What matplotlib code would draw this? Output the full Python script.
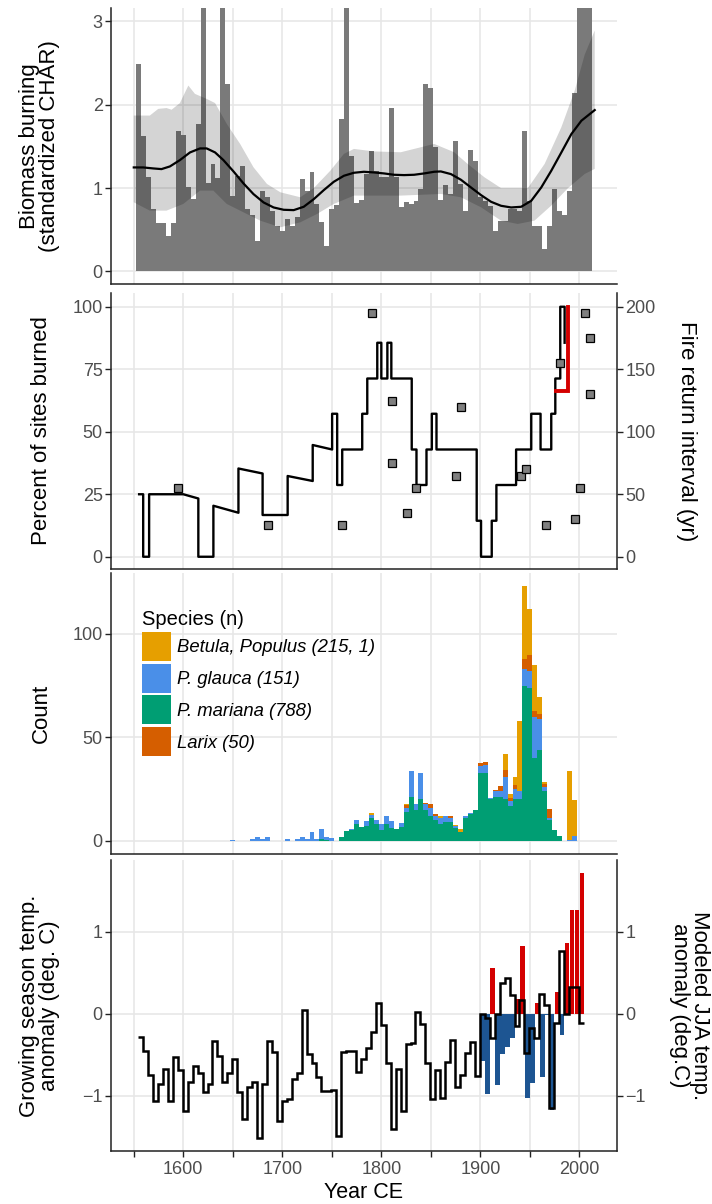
import matplotlib
matplotlib.use("Agg")
import matplotlib.pyplot as plt
import numpy as np
from matplotlib.patches import Patch

plt.rcParams['font.family'] = ['Liberation Sans', 'DejaVu Sans']

# ---------------- Panel 1: biomass burning (CHAR) ----------------
char_years = np.arange(1555, 2011, 5)
char_values = [2.49, 1.62, 1.13, 0.75, 0.58, 0.58, 0.43, 0.58, 1.69, 1.64,
               1.01, 0.87, 1.77, 3.60, 1.06, 1.29, 1.12, 3.60, 2.25, 0.91,
               1.15, 1.27, 0.75, 0.68, 0.37, 0.96, 0.89, 0.72, 0.54, 0.48,
               0.63, 0.54, 0.65, 1.11, 0.97, 1.19, 0.81, 0.59, 0.31, 0.75,
               0.80, 1.83, 3.60, 1.39, 0.82, 0.86, 1.17, 1.45, 1.21, 1.13,
               1.13, 1.96, 1.13, 0.77, 0.83, 0.81, 0.85, 0.99, 2.25, 2.20,
               1.49, 0.86, 1.04, 0.93, 1.57, 1.05, 0.72, 1.46, 1.32, 0.89,
               0.85, 0.79, 0.49, 0.61, 0.61, 0.75, 0.75, 0.72, 1.69, 0.85,
               0.54, 0.54, 0.27, 0.54, 0.99, 0.72, 0.68, 0.97, 2.14, 3.60,
               3.60, 3.60]
smooth_years = [1550.0, 1559.5, 1569.6, 1578.0, 1586.5, 1596.6, 1606.8, 1616.9,
                1623.6, 1632.1, 1640.5, 1650.7, 1660.8, 1670.9, 1681.1, 1691.2,
                1701.4, 1711.5, 1721.6, 1731.8, 1741.9, 1752.0, 1762.2, 1772.3,
                1782.4, 1792.6, 1802.7, 1812.8, 1823.0, 1833.1, 1843.2, 1853.4,
                1860.1, 1870.3, 1880.4, 1890.5, 1900.7, 1910.8, 1920.9, 1931.1,
                1941.2, 1951.4, 1961.5, 1971.6, 1981.8, 1991.9, 2002.0, 2015.5]
smooth_values = [1.248, 1.248, 1.236, 1.228, 1.26, 1.336, 1.428, 1.476,
                 1.476, 1.428, 1.336, 1.20, 1.056, 0.928, 0.828, 0.768,
                 0.74, 0.736, 0.776, 0.868, 0.976, 1.076, 1.148, 1.184,
                 1.196, 1.188, 1.176, 1.16, 1.156, 1.16, 1.176, 1.196,
                 1.20, 1.168, 1.10, 1.008, 0.916, 0.836, 0.788, 0.768,
                 0.776, 0.848, 1.008, 1.208, 1.428, 1.648, 1.808, 1.936]
upper_years = [1550, 1566.2, 1574.7, 1583.1, 1588.2, 1596.6, 1605.1, 1611.8,
               1623.6, 1632.1, 1643.9, 1657.4, 1670.9, 1684.5, 1698.0, 1718.2,
               1731.8, 1748.6, 1762.2, 1772.3, 1792.6, 1819.6, 1839.9, 1853.4,
               1873.6, 1887.2, 1904.1, 1920.9, 1948.0, 1964.9, 1981.8, 1995.3,
               2005.4, 2015.5]
upper_values = [1.87, 1.87, 1.95, 1.96, 1.94, 2.02, 2.23, 2.13,
                2.07, 2.02, 1.77, 1.53, 1.25, 1.05, 0.95, 0.89,
                1.00, 1.21, 1.41, 1.47, 1.44, 1.43, 1.49, 1.53,
                1.43, 1.29, 1.13, 1.00, 1.00, 1.29, 1.73, 2.17,
                2.60, 2.89]
lower_years = [1550, 1566.2, 1583.1, 1600.0, 1616.9, 1630.4, 1643.9, 1657.4,
               1677.7, 1698.0, 1718.2, 1735.1, 1752.0, 1772.3, 1819.6, 1860.1,
               1880.4, 1900.7, 1920.9, 1937.8, 1954.7, 1971.6, 1988.5, 2005.4,
               2015.5]
lower_values = [0.83, 0.73, 0.73, 0.81, 0.97, 0.97, 0.81, 0.73,
                0.61, 0.53, 0.59, 0.69, 0.81, 0.91, 0.91, 0.93,
                0.89, 0.77, 0.61, 0.57, 0.61, 0.79, 1.00, 1.17,
                1.23]

# ---------------- Panel 2: percent of sites burned / FRI ----------------
pct_years = [1555.4, 1559.5, 1559.5, 1565.5, 1565.5, 1600.0, 1615.2, 1615.2,
             1630.4, 1630.4, 1655.7, 1655.7, 1680.1, 1680.1, 1705.4, 1705.4,
             1730.7, 1730.7, 1750.3, 1750.3, 1755.4, 1755.4, 1760.5, 1760.5,
             1780.7, 1780.7, 1785.8, 1785.8, 1795.9, 1795.9, 1800.0, 1800.0,
             1806.1, 1806.1, 1810.1, 1810.1, 1830.7, 1830.7, 1835.5, 1835.5,
             1845.6, 1845.6, 1851.0, 1851.0, 1855.7, 1855.7, 1896.3, 1896.3,
             1900.7, 1900.7, 1911.5, 1911.5, 1916.2, 1916.2, 1936.1, 1936.1,
             1951.4, 1951.4, 1960.8, 1960.8, 1971.6, 1971.6, 1975.7, 1975.7,
             1980.7, 1980.7, 1985.1, 1985.1]
pct_values = [25.0, 25.0, 0.0, 0.0, 25.0, 25.0, 23.3, 0.0,
              0.0, 20.4, 17.6, 35.3, 33.3, 16.7, 16.7, 32.3,
              30.3, 44.7, 42.9, 57.2, 57.2, 28.7, 28.7, 42.9,
              42.9, 57.2, 57.2, 71.3, 71.3, 85.6, 85.6, 71.3,
              71.3, 85.6, 85.6, 71.3, 71.3, 42.9, 42.9, 28.7,
              28.7, 42.9, 42.9, 57.2, 57.2, 42.9, 42.9, 14.4,
              14.4, 0.0, 0.0, 14.4, 14.4, 28.7, 28.7, 42.9,
              42.9, 57.2, 57.2, 42.9, 42.9, 57.2, 57.2, 71.3,
              71.3, 100.0, 100.0, 85.6]
recent_years = [1976.7, 1988.5, 1988.5]
recent_values = [66.3, 66.3, 100.0]
fri_years = [1594.9, 1685.1, 1760.5, 1790.9, 1810.5, 1810.5, 1825.7, 1835.5,
             1875.7, 1880.4, 1941.2, 1945.6, 1965.9, 1980.7, 1996.0, 2001.0,
             2006.0, 2011.1, 2011.1]
fri_values = [54.7, 25.3, 25.3, 194.7, 124.8, 74.7, 34.7, 54.7,
              64.8, 119.5, 64.8, 69.9, 25.3, 154.7, 29.9, 54.7,
              194.7, 174.7, 129.9]

# ---------------- Panel 3: tree establishment counts ----------------
count_years = np.arange(1650, 2001, 5)
mariana = [0, 0, 0, 0, 0, 0, 0, 0, 0, 0, 0, 0, 0, 0, 0, 0, 0, 0, 1, 0.5,
           0, 0, 2, 4.5, 5, 8, 6.5, 7, 11, 8, 5, 8, 6, 5.5, 6.5, 14, 21, 15, 20, 15,
           12, 10, 8, 9, 9, 6, 4, 11, 13, 15, 33, 33, 20, 21, 21, 20, 17, 20, 20, 75,
           74, 40, 44, 24, 10, 5, 2.3, 0, 0, 0, 0]
glauca = [0.5, 0, 0, 0, 1, 2, 1, 2, 0, 0, 0, 0.7, 0, 0.7, 1.6, 1, 4, 1, 4.5, 1.5,
          1.5, 0, 0, 0, 0.5, 2, 0, 2.5, 1.5, 2, 3, 4, 3.5, 0, 2, 2, 12.5, 3, 13, 3,
          4, 2, 3, 3, 2, 1, 0, 1, 0.5, 0, 3, 3.5, 0.5, 3, 3, 11, 2, 5, 4, 8,
          8, 20, 15, 2, 1, 0, 0, 0, 0.5, 2.5, 0]
larix = [0, 0, 0, 0, 0, 0, 0, 0, 0, 0, 0, 0, 0, 0, 0, 0, 0, 0, 0, 0,
         0, 0, 0, 0, 0, 0, 0, 0, 0, 0, 0, 0, 0, 0, 0, 1.5, 0, 0, 0, 0.5,
         2, 1, 0, 0, 1, 0, 0, 0, 0, 0, 1.5, 1.5, 0, 0.5, 2.5, 3, 1.5, 2, 0, 5,
         8, 3, 2.5, 1.5, 4.5, 0, 0, 0, 0, 0, 0]
betula = [0, 0, 0, 0, 0, 0, 0, 0, 0, 0, 0, 0, 0, 0, 0, 0, 0, 0, 0, 0,
          0, 0, 0, 0, 0, 0, 0, 0, 1, 0, 0, 0, 0, 0, 0, 0.5, 0, 0, 0, 0,
          0, 0, 1, 0, 0, 0.5, 1.5, 0, 0, 0, 0, 0, 0, 0, 0, 8, 2, 4, 34, 35,
          22, 22, 8, 1, 0, 0, 0, 0, 33, 17, 0]
species_labels = ['Betula, Populus (215, 1)', 'P. glauca (151)',
                  'P. mariana (788)', 'Larix (50)']

# ---------------- Panel 4: temperature ----------------
temp_edges = np.arange(1554.5, 2005, 5)
temp_values = [-0.28, -0.45, -0.74, -1.06, -0.86, -0.67, -1.06, -0.53, -0.69, -1.18,
               -0.83, -0.63, -0.72, -0.95, -0.85, -0.33, -0.51, -0.83, -0.72, -0.55,
               -0.95, -1.28, -0.89, -0.83, -1.51, -0.85, -0.33, -0.47, -1.31, -1.06,
               -1.04, -0.80, -0.72, 0.04, -0.49, -0.60, -0.77, -0.94, -0.94, -0.93,
               -1.49, -0.46, -0.45, -0.45, -0.71, -0.55, -0.42, -0.22, 0.13, -0.14,
               -0.60, -1.40, -0.67, -1.18, -0.37, -0.36, 0.02, -0.13, -0.60, -1.04,
               -0.69, -1.02, -0.59, -0.32, -0.89, -0.74, -0.48, -0.34, -0.76, 0.00,
               -0.05, -0.30, 0.00, 0.37, 0.43, 0.23, -0.15, 0.17, -0.48, -0.17,
               -0.30, 0.24, 0.11, -1.15, -0.11, 0.76, 0.00, 0.32, 0.32, -0.11]
model_years = [1902.5, 1907.5, 1912.5, 1917.5, 1922.5, 1927.5, 1932.5, 1937.5,
               1942.5, 1947.5, 1952.5, 1957.5, 1962.5, 1967.5, 1972.5, 1977.5,
               1982.5, 1987.5, 1992.5, 1997.5, 2002.5]
model_anom = [-0.58, -0.98, 0.56, -0.87, -0.49, -0.40, -0.30, 0.18,
              0.82, -1.02, -0.84, 0.13, -0.77, -0.02, -1.17, 0.26,
              -0.26, 0.86, 1.26, 1.26, 1.71]

# ---------------- styling ----------------
TICK_C = '#4d4d4d'
SPINE_C = '#222222'
GRID_C = '#e6e6e6'
TICK_FS = 13
LAB_FS = 16
XLIM = (1527, 2038)
xbreaks = np.arange(1550, 2001, 50)

fig = plt.figure(figsize=(7.12, 12.04), dpi=100)
L, W = 111 / 712, 506 / 712
H = 1204
ax1 = fig.add_axes([L, 1 - 284 / H, W, 276 / H])
ax2 = fig.add_axes([L, 1 - 569 / H, W, 276 / H])
ax3 = fig.add_axes([L, 1 - 854 / H, W, 281 / H])
ax4 = fig.add_axes([L, 1 - 1151 / H, W, 291 / H])


def style(ax, yticks, ylim, show_x=False):
    ax.set_xlim(*XLIM)
    ax.set_ylim(*ylim)
    ax.set_axisbelow(True)
    ax.set_xticks(xbreaks)
    ax.set_yticks(yticks)
    ax.grid(True, color=GRID_C, lw=1.1)
    for s in ['top', 'right']:
        ax.spines[s].set_visible(False)
    for s in ['left', 'bottom']:
        ax.spines[s].set_color(SPINE_C)
        ax.spines[s].set_linewidth(1.1)
    ax.tick_params(axis='y', colors=SPINE_C, labelcolor=TICK_C,
                   labelsize=TICK_FS, length=4, width=1, pad=2)
    if show_x:
        ax.tick_params(axis='x', colors=SPINE_C, labelcolor=TICK_C,
                       labelsize=TICK_FS, length=4, width=1, pad=3)
        ax.set_xticklabels([str(y) if y % 100 == 0 else '' for y in xbreaks])
    else:
        ax.tick_params(axis='x', length=0, labelbottom=False)


# Panel 1
style(ax1, [0, 1, 2, 3], (-0.15, 3.16))
ax1.bar(char_years, char_values, width=5, color='#7a7a7a', linewidth=0, zorder=2)
ax1.fill(np.r_[upper_years, lower_years[::-1]], np.r_[upper_values, lower_values[::-1]],
         color='black', alpha=0.17, linewidth=0, zorder=3)
ax1.plot(smooth_years, smooth_values, color='black', lw=1.6, zorder=4)
ax1.set_ylabel('Biomass burning\n(standardized CHAR)', fontsize=LAB_FS,
               linespacing=0.95, ha='center', va='center')
ax1.yaxis.set_label_coords(-0.142, 0.5)

# Panel 2
style(ax2, [0, 25, 50, 75, 100], (-4.9, 105.5))
ax2.plot(pct_years, pct_values, color='black', lw=1.7, zorder=3)
ax2.plot(recent_years, recent_values, color='#d40000', lw=2.8, zorder=4,
         solid_joinstyle='miter')
ax2.set_ylabel('Percent of sites burned', fontsize=LAB_FS, ha='center', va='center')
ax2.yaxis.set_label_coords(-0.137, 0.5)
ax2r = ax2.twinx()
ax2r.set_ylim(-9.8, 211)
ax2r.set_yticks([0, 50, 100, 150, 200])
for s in ['top', 'left', 'bottom']:
    ax2r.spines[s].set_visible(False)
ax2r.spines['right'].set_color(SPINE_C)
ax2r.spines['right'].set_linewidth(1.1)
ax2r.tick_params(axis='y', colors=SPINE_C, labelcolor=TICK_C, labelsize=TICK_FS,
                 length=4, width=1, pad=2)
ax2r.plot(fri_years, fri_values, linestyle='none', marker='s', ms=5.2,
          mfc='#7f7f7f', mec='black', mew=0.9, zorder=5)
ax2r.set_ylabel('Fire return interval (yr)', fontsize=LAB_FS, rotation=270,
                ha='center', va='center')
ax2r.yaxis.set_label_coords(1.138, 0.5)

# Panel 3
style(ax3, [0, 50, 100], (-6.4, 129.5))
col = {'betula': '#E69F00', 'glauca': '#4A8FE8', 'mariana': '#009E73', 'larix': '#D55E00'}
bottom = np.zeros(len(count_years))
for vals, key in [(mariana, 'mariana'), (glauca, 'glauca'), (larix, 'larix'), (betula, 'betula')]:
    v = np.array(vals, dtype=float)
    ax3.bar(count_years, v, width=5, bottom=bottom, color=col[key], linewidth=0, zorder=2)
    bottom += v
handles = [Patch(facecolor=col[k], edgecolor='none') for k in ['betula', 'glauca', 'mariana', 'larix']]
leg = ax3.legend(handles, species_labels, loc='upper left', bbox_to_anchor=(0.062, 0.868),
                 frameon=False, prop={'style': 'italic', 'size': 13.3},
                 title='Species (n)', title_fontproperties={'size': 14.5},
                 handlelength=1.57, handleheight=2.04, labelspacing=0.15,
                 handletextpad=0.3, borderpad=0, borderaxespad=0, alignment='left')
ax3.set_ylabel('Count', fontsize=LAB_FS, ha='center', va='center')
ax3.yaxis.set_label_coords(-0.137, 0.5)

# Panel 4
style(ax4, [-1, 0, 1], (-1.67, 1.87), show_x=True)
bar_cols = ['#d40000' if v > 0 else '#1d5592' for v in model_anom]
ax4.bar(model_years, model_anom, width=4.6, color=bar_cols, linewidth=0, zorder=2)
ax4.stairs(temp_values, temp_edges, baseline=None, color='black', lw=1.8, zorder=3)
ax4.set_ylabel('Growing season temp.\nanomaly (deg. C)', fontsize=LAB_FS,
               linespacing=0.95, ha='center', va='center')
ax4.yaxis.set_label_coords(-0.142, 0.5)
ax4.set_xlabel('Year CE', fontsize=15.5, labelpad=3)
ax4r = ax4.twinx()
ax4r.set_ylim(-1.67, 1.87)
ax4r.set_yticks([-1, 0, 1])
for s in ['top', 'left', 'bottom']:
    ax4r.spines[s].set_visible(False)
ax4r.spines['right'].set_color(SPINE_C)
ax4r.spines['right'].set_linewidth(1.1)
ax4r.tick_params(axis='y', colors=SPINE_C, labelcolor=TICK_C, labelsize=TICK_FS,
                 length=4, width=1, pad=2)
ax4r.set_ylabel('Modeled JJA temp.\nanomaly (deg.C)', fontsize=LAB_FS, rotation=270,
                linespacing=0.9, ha='center', va='center')
ax4r.yaxis.set_label_coords(1.143, 0.5)

fig.savefig('out.png', dpi=100)
